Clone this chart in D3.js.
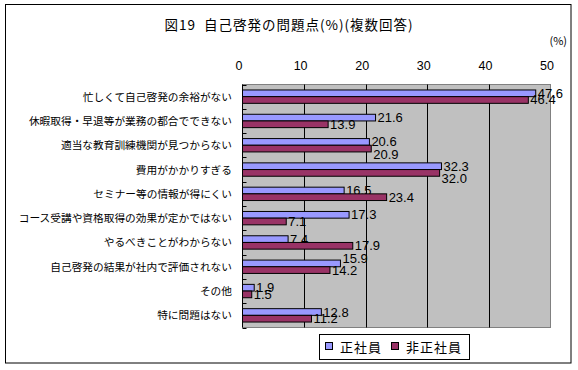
<!DOCTYPE html>
<html><head><meta charset="utf-8">
<script src="https://cdn.jsdelivr.net/npm/d3@7"></script>
<style>body{margin:0;background:#fff}svg{display:block}</style>
</head><body>
<script>
const categories = [
  "忙しくて自己啓発の余裕がない",
  "休暇取得・早退等が業務の都合でできない",
  "適当な教育訓練機関が見つからない",
  "費用がかかりすぎる",
  "セミナー等の情報が得にくい",
  "コース受講や資格取得の効果が定かではない",
  "やるべきことがわからない",
  "自己啓発の結果が社内で評価されない",
  "その他",
  "特に問題はない"
];
const seriesNames = ["正社員", "非正社員"];
const regular = [47.6, 21.6, 20.6, 32.3, 16.5, 17.3, 7.4, 15.9, 1.9, 12.8];
const nonRegular = [46.4, 13.9, 20.9, 32.0, 23.4, 7.1, 17.9, 14.2, 1.5, 11.2];
const xTicks = [0, 10, 20, 30, 40, 50];
const colors = ["#9999FF", "#993366"];
// label nudges (vertical) to avoid overlaps, as in the original
const labelNudge = {"1-2": 6, "1-3": 6, "0-7": -5};

(function () {
const W = 578, H = 370;
const svg = d3.select("body").append("svg").attr("width", W).attr("height", H);
const jp = "'Noto Sans CJK JP','Noto Sans',sans-serif";
const num = "'Liberation Sans',Arial,sans-serif";

svg.append("rect").attr("x", 5.5).attr("y", 4.5).attr("width", 565.5).attr("height", 358.5)
  .attr("fill", "#fff").attr("stroke", "#000").attr("stroke-width", 1);

svg.append("text").attr("x", 289).attr("y", 30).attr("text-anchor", "middle")
  .attr("font-family", jp).attr("font-size", 13.5).attr("letter-spacing", 1)
  .style("white-space", "pre")
  .text("図19  自己啓発の問題点(%)(複数回答)");

const pL = 242.5, pR = 550.5, pT = 84.5, pB = 327.5;
const x = d3.scaleLinear().domain([0, 50]).range([pL, pR]);
const y = d3.scaleBand().domain(categories).range([pT, pB]).paddingInner(0.45).paddingOuter(0.225);
const ySub = d3.scaleBand().domain([0, 1]).range([0, y.bandwidth()]);
const yCat = d3.scaleBand().domain(categories).range([pT, pB]);

svg.append("rect").attr("x", pL).attr("y", pT).attr("width", pR - pL).attr("height", pB - pT)
  .attr("fill", "#C0C0C0").attr("stroke", "#808080").attr("stroke-width", 1);

// gridlines
svg.append("g").selectAll("line").data(xTicks.filter(t => t > 0 && t < 50)).join("line")
  .attr("x1", d => Math.round(x(d)) + 0.5).attr("x2", d => Math.round(x(d)) + 0.5)
  .attr("y1", pT).attr("y2", pB).attr("stroke", "#000");

// top axis labels
const xAxis = d3.axisTop(x).tickValues(xTicks).tickSize(0).tickPadding(0);
const gx = svg.append("g").attr("transform", `translate(-4,${pT - 15})`).call(xAxis);
gx.select(".domain").remove();
gx.selectAll("text").attr("font-family", num).attr("font-size", 12.5).attr("fill", "#000");

svg.append("text").attr("x", 567).attr("y", 45).attr("text-anchor", "end")
  .attr("font-family", jp).attr("font-size", 11).text("(%)");

// left axis
svg.append("line").attr("x1", pL).attr("x2", pL).attr("y1", pT).attr("y2", pB).attr("stroke", "#000");
const boundaries = d3.range(categories.length + 1).map(i => pT + i * yCat.step());
svg.append("g").selectAll("line").data(boundaries).join("line")
  .attr("x1", pL).attr("x2", pL + 4).attr("y1", d => Math.round(d) + 0.5).attr("y2", d => Math.round(d) + 0.5)
  .attr("stroke", "#000");

svg.append("g").selectAll("text").data(categories).join("text")
  .attr("x", 232).attr("y", d => yCat(d) + yCat.bandwidth() / 2 + 4)
  .attr("text-anchor", "end").attr("font-family", jp).attr("font-size", 10.7)
  .text(d => d);

// bars
const series = [regular, nonRegular];
series.forEach((vals, s) => {
  const g = svg.append("g");
  g.selectAll("rect").data(vals).join("rect")
    .attr("x", x(0))
    .attr("y", (d, i) => y(categories[i]) + ySub(s))
    .attr("width", d => x(d) - x(0))
    .attr("height", ySub.bandwidth())
    .attr("fill", colors[s]).attr("stroke", "#000").attr("stroke-width", 1);
  g.selectAll("text").data(vals).join("text")
    .attr("x", d => x(d) + 2)
    .attr("y", (d, i) => y(categories[i]) + ySub(s) + ySub.bandwidth() / 2 + 4.5 + (labelNudge[s + "-" + i] || 0))
    .attr("font-family", num).attr("font-size", 13).attr("fill", "#000")
    .text(d => d.toFixed(1));
});

// legend
const lg = svg.append("g");
lg.append("rect").attr("x", 319.5).attr("y", 334.5).attr("width", 150).attr("height", 25)
  .attr("fill", "#fff").attr("stroke", "#000");
const legendX = [325, 391];
seriesNames.forEach((n, i) => {
  lg.append("rect").attr("x", legendX[i] + 0.5).attr("y", 342.5).attr("width", 7).attr("height", 7)
    .attr("fill", colors[i]).attr("stroke", "#000");
  lg.append("text").attr("x", legendX[i] + 15).attr("y", 351.5)
    .attr("font-family", jp).attr("font-size", 13).attr("letter-spacing", 1)
    .text(n);
});
})();
</script>
</body></html>
